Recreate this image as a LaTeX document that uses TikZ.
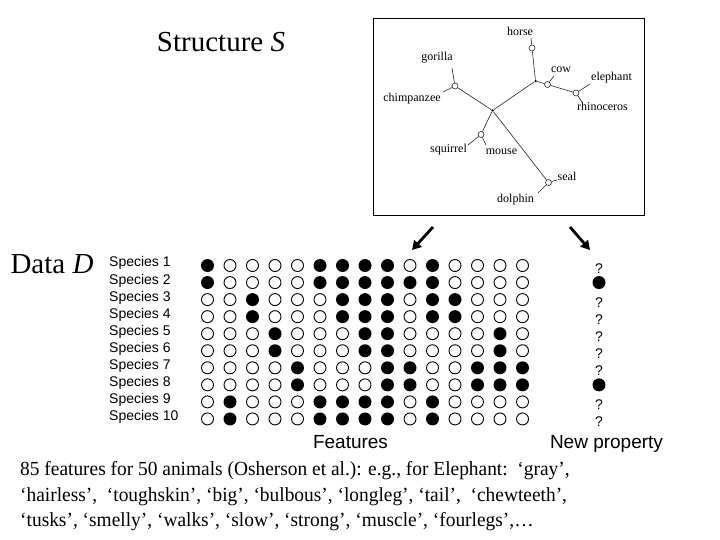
\documentclass[tikz,border=0pt]{standalone}
\usepackage{graphicx}
\usepackage{fontspec}
\setmainfont{Liberation Serif}
\newfontfamily\arialfont{Liberation Sans}
\usetikzlibrary{arrows.meta}
\begin{document}
\begin{tikzpicture}[x=1bp,y=-1bp,
  tlabel/.style={font=\fontsize{12bp}{14bp}\selectfont, inner sep=0pt},
  leafline/.style={line width=0.6bp, black!85},
  bnode/.style={circle, draw=black!85, line width=0.6bp, minimum size=6bp, inner sep=0pt, fill=white},
  jnode/.style={circle, fill=black, minimum size=2.5bp, inner sep=0pt},
  fdot/.style={circle, fill=black, minimum size=13bp, inner sep=0pt},
  odot/.style={circle, draw=black, line width=0.9bp, minimum size=12bp, inner sep=0pt},
  splabel/.style={font=\arialfont\fontsize{14bp}{16bp}\selectfont, anchor=base west, inner sep=0pt},
  qmark/.style={font=\arialfont\fontsize{14bp}{16bp}\selectfont, anchor=base, inner sep=0pt},
  axlabel/.style={font=\arialfont\fontsize{19bp}{22bp}\selectfont, anchor=base, inner sep=0pt},
  bigtext/.style={font=\fontsize{29bp}{34bp}\selectfont, inner sep=0pt},
  bodytext/.style={font=\fontsize{20bp}{24bp}\selectfont, anchor=base west, inner sep=0pt},
  bigarrow/.style={-{Triangle[length=9bp,width=10bp]}, line width=2.8bp},
]
\useasboundingbox (0,0) rectangle (720,540);

% titles
\node[bigtext] (title) at (221,42) {Structure \textit{S}};
\node[bigtext] (data) at (52,264) {Data \textit{D}};

% tree box
\node[draw, line width=0.8bp, anchor=north west, minimum width=271.5bp, minimum height=196.5bp, inner sep=0pt] (treebox) at (372.5,18) {};

% tree
\node[jnode] (c) at (492.5,110.5) {};
\node[jnode] (u) at (535.5,81) {};
\node[bnode] (hs) at (532,48) {};
\node[bnode] (cw) at (547.5,84.5) {};
\node[bnode] (er) at (576,93) {};
\node[bnode] (gc) at (455,86) {};
\node[bnode] (sm) at (481,134.5) {};
\node[bnode] (sd) at (548.5,182.5) {};
\coordinate (hsl) at (531,38);
\coordinate (cwl) at (554,76);
\coordinate (ell) at (590,84);
\coordinate (rhl) at (582,102);
\coordinate (gol) at (452,68);
\coordinate (chl) at (443,92);
\coordinate (sql) at (468,145);
\coordinate (mol) at (486,145);
\coordinate (sel) at (557,180);
\coordinate (dol) at (538,193);
\draw[leafline] (c) -- (u);
\draw[leafline] (u) -- (hs);
\draw[leafline] (u) -- (cw);
\draw[leafline] (cw) -- (er);
\draw[leafline] (c) -- (gc);
\draw[leafline] (c) -- (sm);
\draw[leafline] (c) -- (sd);
\draw[leafline] (hs) -- (hsl);
\draw[leafline] (cw) -- (cwl);
\draw[leafline] (er) -- (ell);
\draw[leafline] (er) -- (rhl);
\draw[leafline] (gc) -- (gol);
\draw[leafline] (gc) -- (chl);
\draw[leafline] (sm) -- (sql);
\draw[leafline] (sm) -- (mol);
\draw[leafline] (sd) -- (sel);
\draw[leafline] (sd) -- (dol);
\node[tlabel] (horse) at (520,31) {horse};
\node[tlabel] (cow) at (561,70) {cow};
\node[tlabel, anchor=west] (elephant) at (591,78) {elephant};
\node[tlabel] (rhino) at (602.5,106) {rhinoceros};
\node[tlabel] (gorilla) at (437,57.5) {gorilla};
\node[tlabel] (chimp) at (412,99) {chimpanzee};
\node[tlabel] (squirrel) at (448.5,150) {squirrel};
\node[tlabel] (mouse) at (501.5,152) {mouse};
\node[tlabel] (seal) at (567,176) {seal};
\node[tlabel] (dolphin) at (515.5,200) {dolphin};

% arrows
\coordinate (a1s) at (433,227);
\coordinate (a1e) at (412,250);
\coordinate (a2s) at (570,227);
\coordinate (a2e) at (590,250);
\draw[bigarrow] (a1s) -- (a1e);
\draw[bigarrow] (a2s) -- (a2e);

% species labels
\foreach \i in {1,...,10} {
  \node[splabel] (sp\i) at (109,{267+17.05*(\i-1)}) {Species \i};
}

% feature matrix
\foreach \r/\row in {
  1/{1,0,0,0,0,1,1,1,1,0,1,0,0,0,0},
  2/{1,0,0,0,0,1,1,1,1,1,1,0,0,0,0},
  3/{0,0,1,0,0,0,1,1,1,0,1,1,0,0,0},
  4/{0,0,1,0,0,0,1,1,1,0,1,1,0,0,0},
  5/{0,0,0,1,0,0,0,1,1,0,0,0,0,1,0},
  6/{0,0,0,1,0,0,0,1,1,0,0,0,0,1,0},
  7/{0,0,0,0,1,0,0,0,1,1,0,0,1,1,1},
  8/{0,0,0,0,1,0,0,0,1,1,0,0,1,1,1},
  9/{0,1,0,0,0,1,1,1,1,0,1,0,0,0,0},
  10/{0,1,0,0,0,1,1,1,1,0,1,0,0,0,0}} {
  \foreach \v [count=\c] in \row {
    \ifnum\v=1
      \node[fdot] (m-\r-\c) at ({207.5+22.5*(\c-1)},{265.5+17.05*(\r-1)}) {};
    \else
      \node[odot] (m-\r-\c) at ({207.5+22.5*(\c-1)},{265.5+17.05*(\r-1)}) {};
    \fi
  }
}

% new property column
\foreach \r in {1,3,4,5,6,7,9,10} {
  \node[qmark] (q\r) at (599,{273.5+17.05*(\r-1)}) {?};
}
\node[fdot] (p2) at (599,{265.5+17.05}) {};
\node[fdot] (p8) at (599,{265.5+17.05*7}) {};

% axis labels
\node[axlabel] (features) at (350.5,448) {Features};
\node[axlabel] (newprop) at (606.5,448) {New property};

% caption
\node[bodytext] (cap1) at (20,475.5) {\scalebox{0.97}[1]{85 features for 50 animals (Osherson et al.): e.g., for Elephant:\ \ ‘gray’,}};
\node[bodytext] (cap2) at (20,501) {\scalebox{0.97}[1]{‘hairless’,\ \ ‘toughskin’, ‘big’, ‘bulbous’, ‘longleg’, ‘tail’,\ \ ‘chewteeth’,}};
\node[bodytext] (cap3) at (20,526.5) {\scalebox{0.97}[1]{‘tusks’, ‘smelly’, ‘walks’, ‘slow’, ‘strong’, ‘muscle’, ‘fourlegs’,…}};
\end{tikzpicture}
\end{document}
